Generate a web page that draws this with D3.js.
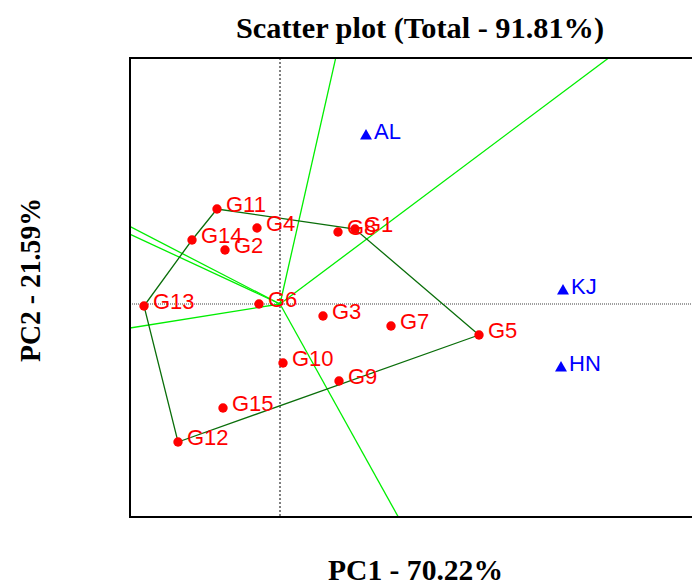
<!DOCTYPE html>
<html>
<head>
<meta charset="utf-8">
<script src="https://cdn.jsdelivr.net/npm/d3@7"></script>
<style>
  body { margin: 0; background: #fff; }
  svg { display: block; }
</style>
</head>
<body>
<svg id="chart" width="692" height="585"></svg>
<script>
// genotype scores (PC1, PC2)
const genotypes = ["G1", "G2", "G3", "G4", "G5", "G6", "G7", "G8", "G9", "G10", "G11", "G12", "G13", "G14", "G15"];
const genoPC1 = [1.50, -1.10, 0.86, -0.46, 3.98, -0.42, 2.22, 1.16, 1.18, 0.06, -1.26, -2.04, -2.72, -1.76, -1.14];
const genoPC2 = [1.875, 1.35, -0.30, 1.90, -0.775, 0.0, -0.55, 1.80, -1.925, -1.475, 2.375, -3.45, -0.05, 1.60, -2.60];

// environment scores
const environments = ["AL", "KJ", "HN"];
const envPC1 = [1.72, 5.66, 5.62];
const envPC2 = [4.20, 0.325, -1.60];

const title = "Scatter plot (Total - 91.81%)";
const xLabel = "PC1 - 70.22%";
const yLabel = "PC2 - 21.59%";

const svg = d3.select("#chart");
const plot = { left: 130, top: 58, bottom: 517, right: 692 };

const x = d3.scaleLinear().domain([-3, 8.24]).range([plot.left, plot.right]);
const y = d3.scaleLinear().domain([-5.325, 6.15]).range([plot.bottom, plot.top]);

svg.append("defs").append("clipPath").attr("id", "clip")
  .append("rect")
  .attr("x", plot.left).attr("y", plot.top)
  .attr("width", plot.right - plot.left + 20).attr("height", plot.bottom - plot.top);

const g = svg.append("g").attr("clip-path", "url(#clip)");

// axes through origin
g.append("line")
  .attr("x1", plot.left).attr("x2", plot.right)
  .attr("y1", y(0)).attr("y2", y(0))
  .attr("stroke", "#808080").attr("stroke-width", 1.6)
  .attr("stroke-dasharray", "1,1");
g.append("line")
  .attr("x1", x(0)).attr("x2", x(0))
  .attr("y1", plot.top).attr("y2", plot.bottom)
  .attr("stroke", "#000").attr("stroke-width", 1)
  .attr("stroke-dasharray", "2,2");

// polygon of the outermost genotypes
const pts = genotypes.map((name, i) => [genoPC1[i], genoPC2[i]]);
const hull = d3.polygonHull(pts);

// rays from origin perpendicular to each side of the polygon
hull.forEach((a, i) => {
  const b = hull[(i + 1) % hull.length];
  const dx = b[0] - a[0], dy = b[1] - a[1];
  const t = -(a[0] * dx + a[1] * dy) / (dx * dx + dy * dy);
  const fx = a[0] + t * dx, fy = a[1] + t * dy;
  const k = 30 / Math.hypot(fx, fy);
  g.append("line")
    .attr("x1", x(0)).attr("y1", y(0))
    .attr("x2", x(fx * k)).attr("y2", y(fy * k))
    .attr("stroke", "#00ee00").attr("stroke-width", 1.3);
});

g.append("path")
  .attr("d", d3.line().x(d => x(d[0])).y(d => y(d[1])).curve(d3.curveLinearClosed)(hull))
  .attr("fill", "none")
  .attr("stroke", "#0a6e0a")
  .attr("stroke-width", 1.3);

// frame
svg.append("path")
  .attr("d", `M${plot.right + 20},${plot.top}H${plot.left}V${plot.bottom}H${plot.right + 20}`)
  .attr("fill", "none")
  .attr("stroke", "#000")
  .attr("stroke-width", 2);

// genotypes
genotypes.forEach((name, i) => {
  svg.append("circle")
    .attr("cx", x(genoPC1[i])).attr("cy", y(genoPC2[i]))
    .attr("r", 4.7)
    .attr("fill", "#ff0000");
});
genotypes.forEach((name, i) => {
  svg.append("text")
    .attr("x", x(genoPC1[i]) + 9).attr("y", y(genoPC2[i]) + 3)
    .attr("font-family", "Liberation Sans, Arial, sans-serif")
    .attr("font-size", 22)
    .attr("fill", "#ff0000")
    .text(name);
});

// environments
environments.forEach((name, i) => {
  svg.append("path")
    .attr("d", d3.symbol(d3.symbolTriangle, 62)())
    .attr("transform", `translate(${x(envPC1[i])},${y(envPC2[i])})`)
    .attr("fill", "#0000ff");
  svg.append("text")
    .attr("x", x(envPC1[i]) + 8).attr("y", y(envPC2[i]) + 3)
    .attr("font-family", "Liberation Sans, Arial, sans-serif")
    .attr("font-size", 22)
    .attr("fill", "#0000ff")
    .text(name);
});

// titles
svg.append("text")
  .attr("x", 236).attr("y", 38)
  .attr("font-family", "Liberation Serif, Times New Roman, serif")
  .attr("font-weight", "bold")
  .attr("font-size", 29)
  .attr("textLength", 368)
  .attr("lengthAdjust", "spacingAndGlyphs")
  .text(title);

svg.append("text")
  .attr("x", 328).attr("y", 580)
  .attr("font-family", "Liberation Serif, Times New Roman, serif")
  .attr("font-weight", "bold")
  .attr("font-size", 29)
  .attr("textLength", 175)
  .attr("lengthAdjust", "spacingAndGlyphs")
  .text(xLabel);

svg.append("text")
  .attr("transform", "translate(40,362) rotate(-90)")
  .attr("font-family", "Liberation Serif, Times New Roman, serif")
  .attr("font-weight", "bold")
  .attr("font-size", 29)
  .attr("textLength", 164)
  .attr("lengthAdjust", "spacingAndGlyphs")
  .text(yLabel);
</script>
</body>
</html>
